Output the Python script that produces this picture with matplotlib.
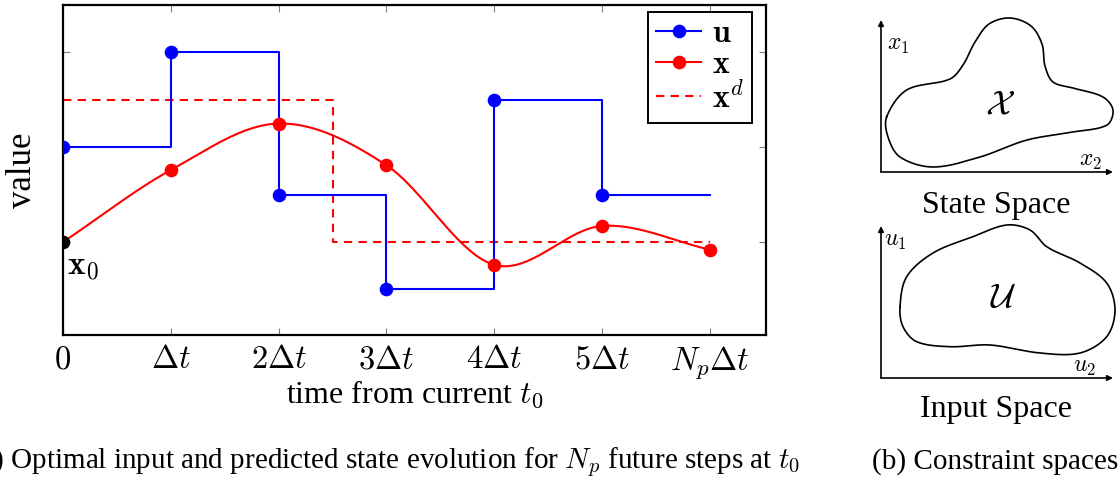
import numpy as np
import matplotlib
matplotlib.use('Agg')
import matplotlib.pyplot as plt
from matplotlib.lines import Line2D

plt.rcParams['font.family'] = ['Liberation Serif', 'DejaVu Serif']
plt.rcParams['mathtext.fontset'] = 'cm'

# prediction horizon data
steps = np.arange(7)
u_vals = [2.0, 3.0, 1.5, 0.5, 2.5, 1.5, 1.5]
x_vals = [1.0, 1.76, 2.25, 1.81, 0.76, 1.17, 0.92]
xd_t = [0, 2.5, 2.5, 6]
xd_vals = [2.5, 2.5, 1.0, 1.0]
tick_labels = ['$0$', r'$\Delta t$', r'$2\Delta t$', r'$3\Delta t$',
               r'$4\Delta t$', r'$5\Delta t$', r'$N_p\Delta t$']

# constraint set outlines (relative to each origin)
state_blob_x = [5.7, 25.7, 69, 82, 94, 108, 129, 150, 161, 164, 172, 192, 222, 232, 226, 192, 146, 99, 52, 19, 7]
state_blob_y = [55.3, 82, 93, 107, 130, 148, 154, 146, 128, 106, 90, 84, 75, 62, 47, 40, 32, 15, 5, 15, 35]
input_blob_x = [19, 25.7, 52, 92, 125.7, 149, 165.7, 199, 225.7, 234, 225.7, 199, 159, 109, 69, 35.7, 22]
input_blob_y = [71.3, 101.3, 125, 141.3, 153, 148, 131.3, 115, 95, 68, 41.3, 25, 25, 33, 31.3, 36.3, 51.3]


def smooth(px, py, closed=False, n=40):
    # catmull-rom through the points, parametrised by chord length
    p = np.column_stack([px, py]).astype(float)
    if closed:
        pts = np.vstack([p[-1], p, p[0], p[1]])
    else:
        pts = np.vstack([2 * p[0] - p[1], p, 2 * p[-1] - p[-2]])
    tk = np.concatenate([[0], np.cumsum(np.hypot(*np.diff(pts, axis=0).T))])
    s = np.linspace(0, 1, n, endpoint=False)[:, None]
    h00 = 2 * s**3 - 3 * s**2 + 1
    h10 = s**3 - 2 * s**2 + s
    h01 = -2 * s**3 + 3 * s**2
    h11 = s**3 - s**2
    out = []
    for i in range(1, len(pts) - 2):
        dt = tk[i + 1] - tk[i]
        m1 = (pts[i + 1] - pts[i - 1]) / (tk[i + 1] - tk[i - 1])
        m2 = (pts[i + 2] - pts[i]) / (tk[i + 2] - tk[i])
        out.append(h00 * pts[i] + h10 * dt * m1 + h01 * pts[i + 1] + h11 * dt * m2)
    out.append(pts[-2][None, :])
    out = np.vstack(out)
    return out[:, 0], out[:, 1]


def smooth_fn(xs, ys, n=40):
    # uniform catmull-rom for the state trajectory
    y = np.asarray(ys, float)
    yy = np.concatenate([[2 * y[0] - y[1]], y, [2 * y[-1] - y[-2]]])
    s = np.linspace(0, 1, n, endpoint=False)
    cx, cy = [], []
    for i in range(len(y) - 1):
        m1 = (yy[i + 2] - yy[i]) / 2
        m2 = (yy[i + 3] - yy[i + 1]) / 2
        cy.append((2 * s**3 - 3 * s**2 + 1) * y[i] + (s**3 - 2 * s**2 + s) * m1
                  + (-2 * s**3 + 3 * s**2) * y[i + 1] + (s**3 - s**2) * m2)
        cx.append(xs[i] + s * (xs[i + 1] - xs[i]))
    return np.concatenate(cx + [[xs[-1]]]), np.concatenate(cy + [[y[-1]]])


W, H = 1119, 482
fig = plt.figure(figsize=(W / 100, H / 100), dpi=100)

ax = fig.add_axes([63 / W, 1 - 335 / H, (766 - 63) / W, (335 - 5) / H])
ax.plot(steps, u_vals, drawstyle='steps-post', color='blue', lw=1.5,
        marker='o', markersize=8.8, markevery=list(range(6)), zorder=3)
cx, cy = smooth_fn(steps, x_vals)
ax.plot(cx, cy, color='red', lw=1.5, zorder=3)
ax.plot(steps[1:], x_vals[1:], 'o', color='red', markersize=8.8, zorder=4)
ax.plot(steps[0], x_vals[0], 'o', color='black', markersize=8.8, zorder=5)
ax.plot(xd_t, xd_vals, color='red', lw=1.5, ls=(0, (4, 3)), zorder=2)
ax.text(0.04, 0.74, r'$\mathbf{x}_0$', fontsize=24, ha='left', va='center')

ax.set_xlim(0, 6.52)
ax.set_ylim(0.02, 3.5)
ax.set_xticks(steps)
ax.set_xticklabels(tick_labels, fontsize=23.5)
ax.set_yticks([1, 2, 3])
ax.set_yticklabels([])
ax.tick_params(direction='in', top=True, right=True, length=5, width=0.8,
               color='gray', pad=7)
for sp in ax.spines.values():
    sp.set_linewidth(1.6)
ax.set_ylabel('value', fontsize=25, labelpad=10)
ax.set_xlabel(r'time from current $t_0$', fontsize=23, labelpad=-2)

handles = [Line2D([], [], color='blue', marker='o', markersize=8.8, lw=1.5),
           Line2D([], [], color='red', marker='o', markersize=8.8, lw=1.5),
           Line2D([], [], color='red', lw=1.5, ls=(0, (4, 3)))]
leg = ax.legend(handles, [r'$\mathbf{u}$', r'$\mathbf{x}$', r'$\mathbf{x}^d$'],
                loc='upper right', bbox_to_anchor=(0.98, 0.979), borderaxespad=0,
                fontsize=23, fancybox=False, framealpha=1,
                edgecolor='black', handlelength=1.4, handletextpad=0.35,
                labelspacing=0.05, borderpad=0.25)
leg.get_frame().set_linewidth(1.4)

# constraint spaces
panels = [(172, state_blob_x, state_blob_y, ('$x_1$', (17, 127)), ('$x_2$', (209, 10)),
           (r'$\mathcal{X}$', (119, 67)), 'State Space', 205),
          (378, input_blob_x, input_blob_y, ('$u_1$', (14, 136)), ('$u_2$', (204, 10)),
           (r'$\mathcal{U}$', (122, 80)), 'Input Space', 410)]
for oy, bx, by, l1, l2, name, title, ty in panels:
    sax = fig.add_axes([875 / W, 1 - (oy + 8) / H, (W - 875) / W, 168 / H])
    sax.set_xlim(-6, W - 881)
    sax.set_ylim(-8, 160)
    sax.axis('off')
    sax.annotate('', xy=(0, 152), xytext=(0, 0),
                 arrowprops=dict(arrowstyle='-|>', color='black', lw=1.2,
                                 mutation_scale=8, shrinkA=0, shrinkB=0))
    sax.annotate('', xy=(232, 0), xytext=(0, 0),
                 arrowprops=dict(arrowstyle='-|>', color='black', lw=1.2,
                                 mutation_scale=8, shrinkA=0, shrinkB=0))
    bx2, by2 = smooth(bx, by, closed=True)
    sax.plot(bx2, by2, color='black', lw=1.2)
    sax.text(*l1[1], l1[0], fontsize=17, ha='center', va='center')
    sax.text(*l2[1], l2[0], fontsize=17, ha='center', va='center')
    sax.text(*name[1], name[0], fontsize=25, ha='center', va='center')
    fig.text(996 / W, 1 - ty / H, title, fontsize=23, ha='center', va='center')

fig.text(800 / W, 1 - 462 / H,
         r'(a) Optimal input and predicted state evolution for $N_p$ future steps at $t_0$',
         fontsize=21, ha='right', va='center')
fig.text(995 / W, 1 - 462 / H, '(b) Constraint spaces', fontsize=21,
         ha='center', va='center')

fig.savefig('out.png', dpi=100)
